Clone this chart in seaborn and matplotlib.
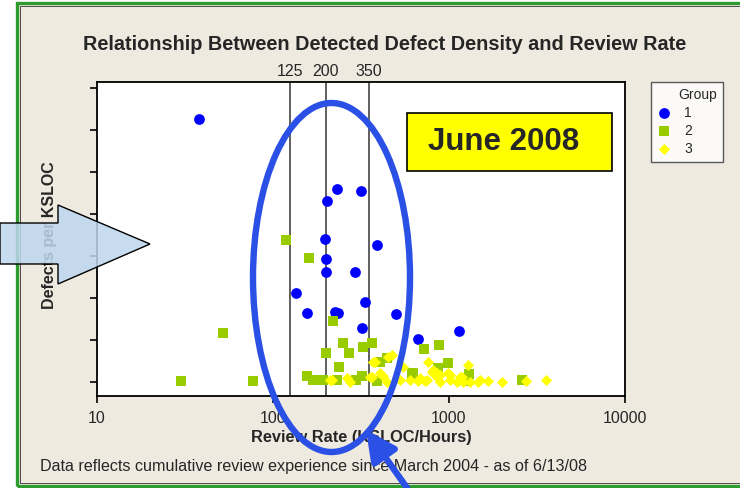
import matplotlib
matplotlib.use('Agg')
import matplotlib.pyplot as plt
import seaborn as sns
import pandas as pd
from matplotlib import font_manager
from matplotlib.ticker import NullLocator, FixedLocator, FixedFormatter
from matplotlib.patches import Rectangle, Ellipse, Polygon, FancyArrowPatch

# ---------------- data ----------------
title = "Relationship Between Detected Defect Density and Review Rate"
x_label = "Review Rate (KSLOC/Hours)"
y_label = "Defects per KSLOC"
footnote = "Data reflects cumulative review experience since March 2004 - as of 6/13/08"
badge = "June 2008"
group_names = ["1", "2", "3"]
rate_limits = [125, 200, 350]
x_ticks = [10, 100, 1000, 10000]
x_tick_labels = ["10", "100", "1000", "10000"]
y_ticks = [0, 50, 100, 150, 200, 250, 300, 350]

g1_rate = [38, 231, 316, 203, 198, 390, 200, 200, 292, 135, 156, 225, 234, 333, 320, 500, 667, 1140]
g1_density = [313, 230, 227, 215, 170, 163, 146, 131, 131, 106, 82, 83, 82, 95, 64, 81, 51, 61]

g2_rate = [119, 160, 219, 52, 250, 325, 365, 200, 270, 237, 30, 77, 156, 169, 192, 231, 296, 320,
           405, 444, 624, 721, 877, 987, 866, 1299, 2598, 390, 1266, 616]
g2_density = [169, 148, 73, 58, 46, 42, 46, 35, 35, 18, 1, 1, 7, 2, 2, 2, 2, 7,
              24, 29, 11, 39, 44, 23, 17, 10, 2, 1, 1, 10]

g3_rate = [216, 263, 274, 380, 474, 365, 405, 444, 548, 600, 684, 760, 750, 855, 1282, 801, 855,
           987, 1013, 1186, 1201, 1316, 1500, 1666, 2000, 2738, 3557, 889, 1110, 422, 450, 370,
           211, 527, 667, 730, 811, 889, 1013, 1155, 1461, 356]
g3_density = [2, 5, 0, 24, 32, 6, 11, 0, 18, 2, 5, 24, 2, 11, 20, 12, 6,
              11, 2, 6, 0, 0, 2, 1, 0, 1, 2, 0, 0, 7, 30, 24,
              2, 2, 1, 1, 14, 8, 8, 6, 0, 6]

# ---------------- style ----------------
sns.set_theme(style="white")
names = {f.name for f in font_manager.fontManager.ttflist}
narrow = "Liberation Sans Narrow" if "Liberation Sans Narrow" in names else "Liberation Sans"
plt.rcParams["font.family"] = [narrow, "DejaVu Sans"]

W, H = 740, 488
fig = plt.figure(figsize=(W / 100, H / 100), dpi=100, facecolor="white")

def fx(px):
    return px / W

def fy(py):
    return 1 - py / H

# background panel and green frame
fig.add_artist(Rectangle((fx(17), fy(485)), fx(740), 482 / H, transform=fig.transFigure,
                         facecolor="#EEEAE0", edgecolor="none", zorder=-10))
fig.add_artist(Rectangle((fx(16.5), fy(485.5)), fx(740), 483 / H, transform=fig.transFigure,
                         facecolor="none", edgecolor="#2E9B2E", lw=2.4, zorder=-9))
fig.add_artist(Rectangle((fx(19.5), fy(482.5)), fx(740), 477 / H, transform=fig.transFigure,
                         facecolor="none", edgecolor="#333333", lw=0.6, zorder=-9))

ax = fig.add_axes([fx(97), fy(396), (625 - 97) / W, (396 - 82) / H])
ax.set_facecolor("white")

df = pd.DataFrame({
    "rate": g1_rate + g2_rate + g3_rate,
    "density": g1_density + g2_density + g3_density,
    "Group": ["1"] * len(g1_rate) + ["2"] * len(g2_rate) + ["3"] * len(g3_rate),
})
styles = {"1": ("#0000FF", "o", 60), "2": ("#99CC00", "s", 42), "3": ("#FFFF00", "D", 32)}
for g in group_names:
    col, mk, sz = styles[g]
    sns.scatterplot(data=df[df["Group"] == g], x="rate", y="density", ax=ax, color=col,
                    marker=mk, s=sz, linewidth=0, label=g, zorder=3)

for r in rate_limits:
    ax.axvline(r, color="#444444", lw=1.2, zorder=2)

ax.set_xscale("log")
ax.set_xlim(10, 10000)
ax.set_ylim(-16.7, 357)
ax.xaxis.set_major_locator(FixedLocator(x_ticks))
ax.xaxis.set_major_formatter(FixedFormatter(x_tick_labels))
ax.xaxis.set_minor_locator(NullLocator())
ax.set_yticks(y_ticks)
ax.set_yticklabels([])
ax.tick_params(axis="both", direction="out", length=5, width=1.2, color="black",
               bottom=True, left=True, labelsize=11.5, pad=6)
for sp in ax.spines.values():
    sp.set_color("black")
    sp.set_linewidth(1.3)

sec = ax.secondary_xaxis("top")
sec.xaxis.set_major_locator(FixedLocator(rate_limits))
sec.xaxis.set_major_formatter(FixedFormatter([str(r) for r in rate_limits]))
sec.xaxis.set_minor_locator(NullLocator())
sec.tick_params(length=0, pad=2, labelsize=11.5)
sec.spines["top"].set_visible(False)

ax.set_xlabel(x_label, fontsize=11.8, fontweight="bold", labelpad=3)
ax.set_ylabel(y_label, fontsize=11.5, fontweight="bold", va="center")
ax.yaxis.set_label_coords((50 - 97) / 528, (396 - 235) / 314)

handles, labels = ax.get_legend_handles_labels()
if ax.legend_ is not None:
    ax.legend_.remove()
leg = fig.legend(handles, labels, title="Group", loc="upper left",
                 bbox_to_anchor=(fx(651), fy(157), 72 / W, 75 / H), mode="expand",
                 frameon=True, fancybox=False,
                 edgecolor="#333333", facecolor="white", fontsize=10, title_fontsize=10,
                 alignment="right", borderpad=0.4, labelspacing=0.3, handletextpad=1.0,
                 handlelength=1.0, borderaxespad=0)
leg.get_frame().set_linewidth(1.0)

fig.text(fx(385), fy(45), title, ha="center", va="center", fontsize=14.3, fontweight="bold")
fig.text(fx(40), fy(467), footnote, ha="left", va="center", fontsize=11.6)

# June 2008 badge
fig.add_artist(Rectangle((fx(407), fy(171)), (612 - 407) / W, (171 - 113) / H,
                         transform=fig.transFigure, facecolor="#FFFF00", edgecolor="black",
                         lw=1.2, zorder=5))
fig.text(fx(504), fy(142), badge, ha="center", va="center", fontsize=22.5, fontweight="bold",
         family=["Liberation Sans", "DejaVu Sans"], zorder=6)

# annotation ellipse and arrow
fig.add_artist(Ellipse((fx(331.5), fy(277.5)), 157 / W, 349 / H, transform=fig.transFigure,
                       fill=False, edgecolor="#2B50E6", lw=4.6, zorder=10))
fig.add_artist(FancyArrowPatch((fx(412), fy(495)), (fx(366), fy(430)), transform=fig.transFigure,
                               arrowstyle="-|>,head_length=1.0,head_width=0.5", mutation_scale=18,
                               color="#2B50E6", lw=4.6, shrinkA=0, shrinkB=0, zorder=10))

# left block arrow
pts = [(0, 223), (58, 223), (58, 205), (150, 244), (58, 284), (58, 264), (0, 264)]
fig.add_artist(Polygon([(fx(x), fy(y)) for x, y in pts], closed=True, transform=fig.transFigure,
                       facecolor=(0.74, 0.84, 0.93, 0.85), edgecolor="black", lw=1.0, zorder=9))

fig.savefig("out.png", dpi=100, facecolor=fig.get_facecolor())
